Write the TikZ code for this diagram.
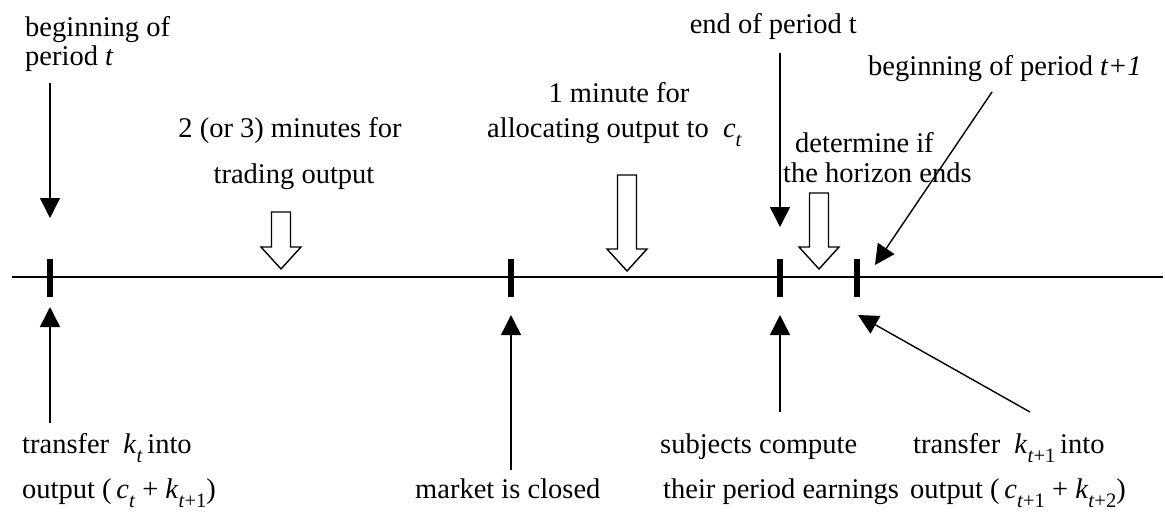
\documentclass[tikz,border=0pt]{standalone}
\usepackage{fontspec}
\setmainfont{Liberation Serif}
\usetikzlibrary{arrows.meta}

% italic variable with a lowered, smaller subscript
\newcommand{\ivar}[2]{\textit{#1}\raisebox{-9pt}{\fontsize{20.5}{20.5}\selectfont #2}}

\tikzset{
  lbl/.style={inner sep=0pt, font=\fontsize{28.5}{30}\selectfont},
  axis/.style={line width=1.8pt},
  tick/.style={line width=6pt},
  pointer/.style={line width=1.4pt, -{Triangle[width=20pt,length=20pt]}},
  hollow/.style={line width=1.4pt, draw=black, fill=white, line join=miter},
  pics/hollowdown/.style={code={
    \draw[hollow] (0,0) -- (20,-22) -- (9.5,-22) -- (9.5,-#1) -- (-9.5,-#1)
      -- (-9.5,-22) -- (-20,-22) -- cycle;
  }}
}

\begin{document}
\begin{tikzpicture}[x=1pt, y=-1pt]
\useasboundingbox (0,0) rectangle (1165,512);

% time axis
\coordinate (axL) at (12,277);
\coordinate (axR) at (1163,277);
\draw[axis] (axL) -- (axR);

% event marks on the axis
\coordinate (m1) at (50,277);
\coordinate (m2) at (511,277);
\coordinate (m3) at (780,277);
\coordinate (m4) at (857,277);
\foreach \m in {m1,m2,m3,m4}
  \draw[tick] ([yshift=-20pt]\m) -- ([yshift=18pt]\m);

% labels above the axis
\node[lbl, anchor=base west] (bt1) at (25,36) {beginning of};
\node[lbl, anchor=base west] (bt2) at (25,65) {period \textit{t}};

\node[lbl, anchor=base] (tr1) at (290,137) {2 (or 3) minutes for};
\node[lbl, anchor=base] (tr2) at (294,183) {trading output};

\node[lbl, anchor=base] (al1) at (619,102) {1 minute for};
\node[lbl, anchor=base west] (al2) at (487,137) {allocating output to \ \ivar{c}{\textit{t}}};

\node[lbl, anchor=base east] (en1) at (857,33) {end of period t};

\node[lbl, anchor=base west] (bn1) at (868,75) {beginning of period \textit{t+1}};

\node[lbl, anchor=base west] (ho1) at (795,152) {determine if};
\node[lbl, anchor=base west] (ho2) at (783,182) {the horizon ends};

% labels below the axis
\node[lbl, anchor=base west] (tk1) at (22,453) {transfer \ \ivar{k}{\textit{t}}\,into};
\node[lbl, anchor=base west] (tk2) at (22,498) {output (\,\ivar{c}{\textit{t}} + \ivar{k}{\textit{t}+1})};

\node[lbl, anchor=base west] (mk) at (415,498) {market is closed};

\node[lbl, anchor=base west] (sc1) at (660,453) {subjects compute};
\node[lbl, anchor=base west] (sc2) at (663,498) {their period earnings};

\node[lbl, anchor=base west] (tn1) at (913,453) {transfer \ \ivar{k}{\textit{t}+1}\,into};
\node[lbl, anchor=base west] (tn2) at (910,498) {output (\,\ivar{c}{\textit{t}+1} + \ivar{k}{\textit{t}+2})};

% pointer ends
\coordinate (p1s) at (50,83);    \coordinate (p1e) at (50,218);
\coordinate (p2s) at (780,53);   \coordinate (p2e) at (780,227);
\coordinate (p3s) at (992,92);   \coordinate (p3e) at (875,265);
\coordinate (q1s) at (50,423);   \coordinate (q1e) at (50,307);
\coordinate (q2s) at (511,470);  \coordinate (q2e) at (511,315);
\coordinate (q3s) at (780,412);  \coordinate (q3e) at (780,315);
\coordinate (q4s) at (1030,412); \coordinate (q4e) at (858,315);

\draw[pointer] (p1s) -- (p1e);
\draw[pointer] (p2s) -- (p2e);
\draw[pointer] (p3s) -- (p3e);
\draw[pointer] (q1s) -- (q1e);
\draw[pointer] (q2s) -- (q2e);
\draw[pointer] (q3s) -- (q3e);
\draw[pointer] (q4s) -- (q4e);

% hollow arrows marking the time spans
\pic at (281,269) {hollowdown=57};
\pic at (627,271) {hollowdown=96};
\pic at (819,269) {hollowdown=76};
\end{tikzpicture}
\end{document}
